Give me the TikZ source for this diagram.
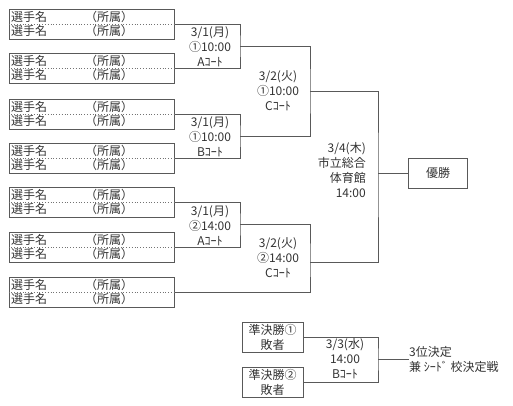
\documentclass[tikz,border=0pt]{standalone}
\usepackage{fontspec}
\setmainfont{Noto Sans CJK JP}
\usetikzlibrary{positioning}

\begin{document}
\begin{tikzpicture}[
  x=1pt, y=-1pt,
  every node/.style={font=\fontsize{12}{15}\selectfont, text=black!80, inner sep=0pt},
  entry/.style={draw=black!65, line width=1pt, minimum width=165pt, minimum height=30pt},
  loser/.style={entry, minimum width=61pt, align=center},
  result/.style={entry, minimum width=59pt},
  sep/.style={dotted, draw=black!55, line width=0.8pt},
  info/.style={align=center},
  line/.style={draw=black!65, line width=1pt},
]
\useasboundingbox (0,0) rectangle (513,405);
% player entries
\foreach \i/\y in {1/24,2/68,3/114,4/158,5/202,6/247,7/292}{
  \node[entry] (p\i) at (91.5,\y) {};
  \draw[sep] (p\i.west) -- (p\i.east);
  \node[anchor=west] (n\i a) at (11,\y-7) {選手名};
  \node[anchor=west] (c\i a) at (85,\y-7) {（所属）};
  \node[anchor=west] (n\i b) at (11,\y+7) {選手名};
  \node[anchor=west] (c\i b) at (85,\y+7) {（所属）};
}
\coordinate (m1) at (240,46);
\coordinate (m2) at (240,136);
\coordinate (m3) at (240,224);
\coordinate (s1) at (310,91);
\coordinate (s2) at (310,262);
\coordinate (f) at (378,173);
\coordinate (t) at (378,359);
% first round
\draw[line] (p1.east) -| (m1) |- (p2.east);
\draw[line] (p3.east) -| (m2) |- (p4.east);
\draw[line] (p5.east) -| (m3) |- (p6.east);
\node[info] (d1) at (210,47) {3/1(月)\\①10:00\\Aｺｰﾄ};
\node[info] (d2) at (210,137) {3/1(月)\\①10:00\\Bｺｰﾄ};
\node[info] (d3) at (210,226) {3/1(月)\\②14:00\\Aｺｰﾄ};
% second round
\draw[line] (m1) -| (s1) |- (m2);
\draw[line] (m3) -| (s2) |- (p7.east);
\node[info] (e1) at (278,91) {3/2(火)\\①10:00\\Cｺｰﾄ};
\node[info] (e2) at (278,258) {3/2(火)\\②14:00\\Cｺｰﾄ};
% final
\draw[line] (s1) -| (f) |- (s2);
\node[result, right=30pt of f] (win) {優勝};
\draw[line] (f) -- (win);
\node[info, align=right, left=12pt of f, yshift=2.5pt] (fin) {3/4(木)\\市立総合\\体育館\\14:00};
% third place
\node[loser] (q1) at (272.5,337) {準決勝①\\敗者};
\node[loser] (q2) at (272.5,382) {準決勝②\\敗者};
\draw[line] (q1.east) -| (t) |- (q2.east);
\node[info] (g1) at (345,359) {3/3(水)\\14:00\\Bｺｰﾄ};
\node[align=left, right=31pt of t] (third) {3位決定\\兼 ｼｰﾄﾞ 校決定戦};
\draw[line] (t) -- (third);
\end{tikzpicture}
\end{document}
